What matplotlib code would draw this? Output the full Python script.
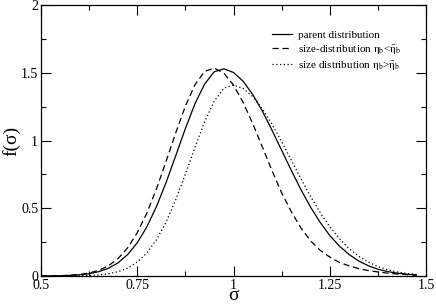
import matplotlib
matplotlib.use("Agg")
import matplotlib.pyplot as plt
from matplotlib.ticker import MultipleLocator

plt.rcParams['font.family'] = ['Liberation Serif', 'DejaVu Serif']
plt.rcParams['mathtext.fontset'] = 'stix'

sigma = [0.500, 0.525, 0.550, 0.575, 0.600, 0.625, 0.650, 0.675, 0.700, 0.725,
         0.750, 0.775, 0.800, 0.825, 0.850, 0.875, 0.900, 0.925, 0.950, 0.975,
         1.000, 1.025, 1.050, 1.075, 1.100, 1.125, 1.150, 1.175, 1.200, 1.225,
         1.250, 1.275, 1.300, 1.325, 1.350, 1.375, 1.400, 1.425, 1.450, 1.475]

parent = [0.0004, 0.0009, 0.0019, 0.0042, 0.0087, 0.017, 0.032, 0.057, 0.097, 0.158,
          0.245, 0.363, 0.513, 0.691, 0.888, 1.088, 1.272, 1.417, 1.507, 1.529,
          1.502, 1.437, 1.339, 1.217, 1.076, 0.928, 0.780, 0.638, 0.509, 0.396,
          0.299, 0.221, 0.159, 0.111, 0.076, 0.050, 0.033, 0.021, 0.013, 0.008]

smaller = [0.0004, 0.001, 0.0024, 0.0054, 0.011, 0.022, 0.042, 0.075, 0.128, 0.208,
           0.319, 0.465, 0.644, 0.847, 1.057, 1.254, 1.412, 1.510, 1.534, 1.497,
           1.409, 1.281, 1.124, 0.952, 0.778, 0.614, 0.475, 0.355, 0.260, 0.190,
           0.140, 0.100, 0.075, 0.055, 0.040, 0.030, 0.021, 0.015, 0.010, 0.006]

larger = [0.0, 0.0001, 0.0002, 0.0006, 0.0015, 0.0036, 0.0078, 0.016, 0.032, 0.058,
          0.103, 0.170, 0.268, 0.399, 0.563, 0.752, 0.951, 1.138, 1.291, 1.386,
          1.409, 1.384, 1.324, 1.234, 1.121, 0.991, 0.855, 0.719, 0.588, 0.469,
          0.364, 0.276, 0.203, 0.146, 0.103, 0.070, 0.046, 0.030, 0.019, 0.012]

labels = ['parent distribution',
          r'size-distribution $\mathrm{\eta_b}$<$\mathrm{\bar{\eta}_b}$',
          r'size distribution $\mathrm{\eta_b}$>$\mathrm{\bar{\eta}_b}$']

fig = plt.figure(figsize=(4.36, 3.04), dpi=100)
ax = fig.add_axes([41/436, 1-276/304, 385/436, 271/304])

ax.plot(sigma, parent, color='black', lw=0.9, ls='-', label=labels[0])
ax.plot(sigma, smaller, color='black', lw=0.9, ls=(0, (5, 3)), label=labels[1])
ax.plot(sigma, larger, color='black', lw=0.9, ls=(0, (1, 2)), label=labels[2])

ax.set_xlim(0.5, 1.5)
ax.set_ylim(0, 2)
ax.xaxis.set_minor_locator(MultipleLocator(0.125))
ax.yaxis.set_minor_locator(MultipleLocator(0.25))
ax.set_xticks([0.5, 0.75, 1.0, 1.25, 1.5])
ax.set_xticklabels(['0.5', '0.75', '1', '1.25', '1.5'])
ax.set_yticks([0, 0.5, 1.0, 1.5, 2.0])
ax.set_yticklabels(['0', '0.5', '1', '1.5', '2'])
ax.tick_params(which='both', direction='in', top=True, right=True, labelsize=10, width=0.8)
ax.tick_params(which='major', length=7, pad=2)
ax.tick_params(which='minor', length=3.5)
for s in ax.spines.values():
    s.set_linewidth(0.9)

ax.set_xlabel('σ', fontsize=14)
ax.xaxis.set_label_coords(0.5, -0.071)
ax.xaxis.label.set_va('center')
ax.set_ylabel('f(σ)', fontsize=14)
ax.yaxis.set_label_coords(-0.077, 0.50)
ax.yaxis.label.set_va('center')

leg = ax.legend(loc='upper right', bbox_to_anchor=(0.94, 0.915), frameon=False,
                fontsize=8, handlelength=1.8, handletextpad=0.5, labelspacing=0.25,
                borderaxespad=0, borderpad=0.2)

fig.savefig('out.png', dpi=100)
